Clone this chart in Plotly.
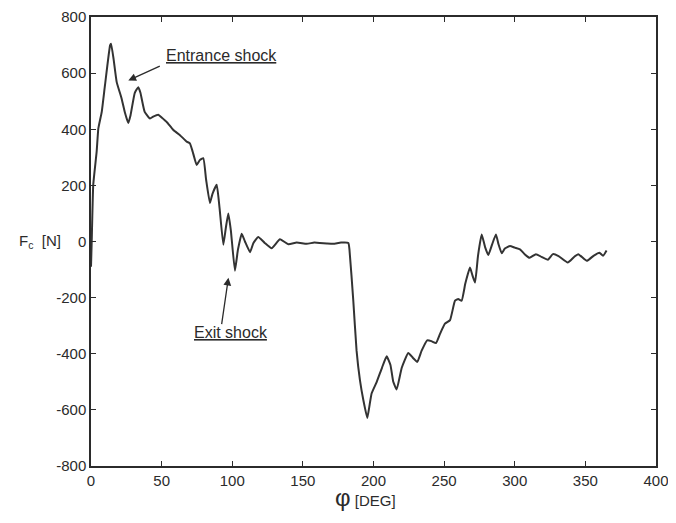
import plotly.graph_objects as go

phi = [0, 0.5, 1.6, 4, 5.2, 7.6, 9.9, 13.5, 14.2, 16, 18.2, 21.7, 24, 26.4, 28, 31, 33.5, 35,
       38, 41.8, 44, 47.6, 50, 53.6, 58.3, 63, 67.7, 70, 72, 74.8, 77, 79.5, 81.5, 84.2, 86, 89,
       91, 93.7, 95.5, 97.2, 99, 101.9, 104, 106.7, 109, 112.6, 115, 118.4, 123, 127.9, 133.8,
       139.7, 145.6, 152.7, 158, 162, 167, 171.5, 177, 182.2, 183, 185.7, 188, 190.4, 192.8,
       195.6, 197, 198.7, 202.3, 206, 209.3, 212, 214, 216.4, 220, 224.6, 228, 231, 234, 238,
       241, 244.2, 247, 250.6, 254.2, 257.7, 260, 262.4, 265, 268.3, 270, 271.9, 274, 276.6,
       279, 281.3, 284, 286.7, 288.5, 290.8, 293, 296.6, 300, 303.7, 307, 310.5, 315, 319,
       323.5, 327, 331, 337.5, 342, 345, 351, 356, 360, 362.5, 365]
force = [-90, 0, 203, 320, 403, 462, 557, 699, 705, 650, 568, 509, 460, 422, 450, 530, 550, 530,
         462, 438, 445, 452, 442, 426, 397, 379, 356, 350, 320, 273, 290, 297, 220, 137, 170, 202,
         120, -12, 50, 100, 40, -104, -30, 28, 0, -38, -5, 16, -5, -24, 8,
         -10, -4, -8, -4, -5, -7, -8, -4, -5, -30, -211, -388, -494, -565,
         -629, -590, -541, -500, -450, -409, -440, -500, -527, -450, -397, -415, -429, -390, -352,
         -355, -362, -330, -293, -280, -211, -205, -211, -150, -93, -120, -146, -50, 25,
         -20, -48, -10, 25, -10, -42, -25, -16, -22, -28, -45, -58, -45, -55,
         -65, -45, -52, -75, -55, -45, -69, -50, -40, -51, -32]

x_ticks = [0, 50, 100, 150, 200, 250, 300, 350, 400]
y_ticks = [-800, -600, -400, -200, 0, 200, 400, 600, 800]

FONT = "Liberation Sans, Arial, sans-serif"
INK = "#2b2b2b"

fig = go.Figure()
fig.add_trace(go.Scatter(x=phi, y=force, mode="lines",
                         line=dict(color="#333333", width=2, shape="spline", smoothing=0.4),
                         showlegend=False))

axis_common = dict(showgrid=False, zeroline=False, showline=True, linecolor=INK,
                   linewidth=1.5, mirror="ticks", ticks="inside", ticklen=5,
                   tickcolor=INK, tickwidth=1.2, automargin=False,
                   ticklabeloverflow="allow",
                   tickfont=dict(family=FONT, size=15, color=INK))

fig.update_xaxes(range=[0, 400], tickvals=x_ticks, ticktext=[str(v) for v in x_ticks],
                 **axis_common)
fig.update_yaxes(range=[-800, 800], tickvals=y_ticks, ticktext=[str(v) for v in y_ticks],
                 **axis_common)

fig.add_annotation(x=26.4, y=574, ax=33, ay=-15, xref="x", yref="y", text="",
                   showarrow=True, arrowhead=2, arrowsize=1.2, arrowwidth=1.3,
                   arrowcolor=INK)
fig.add_annotation(x=92.5, y=664, xref="x", yref="y", text="<u>Entrance shock</u>",
                   showarrow=False, font=dict(family=FONT, size=16, color=INK))
fig.add_annotation(x=97.3, y=-129, ax=-7, ay=48, xref="x", yref="y", text="",
                   showarrow=True, arrowhead=2, arrowsize=1.2, arrowwidth=1.3,
                   arrowcolor=INK)
fig.add_annotation(x=99.1, y=-324, xref="x", yref="y", text="<u>Exit shock</u>",
                   showarrow=False, font=dict(family=FONT, size=16, color=INK))

fig.add_annotation(x=-0.05, y=0.5, xref="paper", yref="paper", xanchor="right",
                   text="F<sub>c</sub>  [N]", showarrow=False,
                   font=dict(family=FONT, size=15, color=INK))
fig.add_annotation(x=0.485, y=-0.07, xref="paper", yref="paper", yanchor="middle",
                   text="<span style='font-size:24px'>φ</span> [DEG]", showarrow=False,
                   font=dict(family=FONT, size=15, color=INK))

# page body has an 8px margin, so the figure is sized/offset to land the plot at ~91..656 x 17..466
fig.update_layout(width=668, height=515, paper_bgcolor="white", plot_bgcolor="white",
                  margin=dict(l=83, r=20, t=9, b=57))

fig.write_html("out.html")
